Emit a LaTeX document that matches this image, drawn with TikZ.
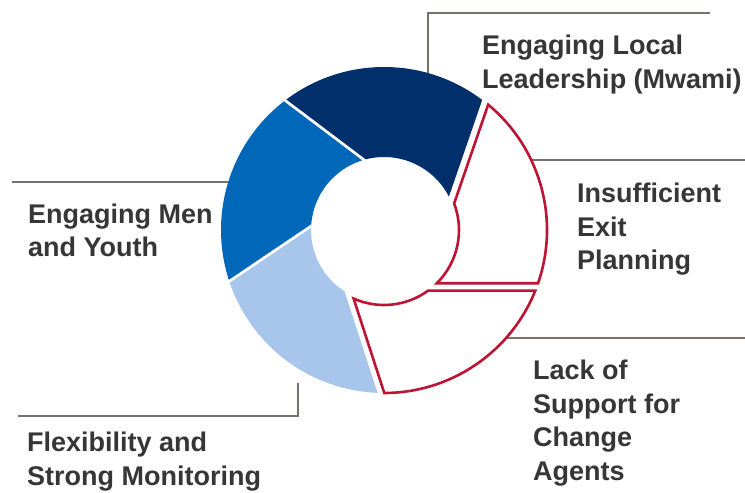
\documentclass[tikz,border=0pt]{standalone}
\usepackage{fontspec}
\setmainfont{Liberation Sans}
\definecolor{navyseg}{HTML}{002F6C}
\definecolor{midseg}{HTML}{0067B9}
\definecolor{lightseg}{HTML}{A8C6EC}
\definecolor{redseg}{HTML}{BE1434}
\definecolor{leadgray}{HTML}{77716D}
\definecolor{txtgray}{HTML}{363636}
\newcommand\labelfont{\fontsize{27}{33.5}\selectfont\bfseries}
\newcommand\stackl[1]{\vtop{\baselineskip=33.5pt\lineskiplimit=-20pt\halign{##\hfil\cr#1\crcr}}}
% #1 theta a, #2 offset a, #3 theta b, #4 offset b, #5 inner r, #6 outer R, #7 style
\newcommand\donutseg[7]{%
  \pgfmathsetmacro\aOut{#1-90+acos(#2/#6)}%
  \pgfmathsetmacro\aIn{#1-90+acos(#2/#5)}%
  \pgfmathsetmacro\bOut{#3-90+acos(#4/#6)}%
  \pgfmathsetmacro\bIn{#3-90+acos(#4/#5)}%
  \path[#7] ([shift={(\aOut:#6pt)}]C) arc[start angle=\aOut, end angle=\bOut, radius=#6pt]
    -- ([shift={(\bIn:#5pt)}]C) arc[start angle=\bIn, end angle=\aIn, radius=#5pt] -- cycle;%
}
\tikzset{
  lead/.style={draw=leadgray, line width=1.8pt},
  lbl/.style={anchor=base west, inner sep=0pt, text=txtgray, font=\labelfont},
  redpart/.style={fill=white, draw=redseg, line width=2.6pt, line join=miter},
}
\begin{document}
\begin{tikzpicture}[x=1pt,y=1pt]
\useasboundingbox (0,0) rectangle (745,493);
\fill[white] (0,0) rectangle (745,493);
\coordinate (C) at (384,263);
% leader line anchor points
\coordinate (nv0) at (428,405);
\coordinate (nv1) at (428,480);
\coordinate (nv2) at (710,480);
\coordinate (r10) at (520,333);
\coordinate (r11) at (745,333);
\coordinate (r20) at (495,155);
\coordinate (r21) at (745,155);
\coordinate (mb0) at (240,311);
\coordinate (mb1) at (12,311);
\coordinate (lb0) at (298,110);
\coordinate (lb1) at (298,77);
\coordinate (lb2) at (18,77);
\draw[lead] (nv0) -- (nv1) -- (nv2);
\draw[lead] (r10) -- (r11);
\draw[lead] (r20) -- (r21);
\draw[lead] (mb0) -- (mb1);
\draw[lead] (lb0) -- (lb1) -- (lb2);
% donut segments
\donutseg{71}{50.5}{143}{45.5}{73}{163}{fill=navyseg}
\donutseg{143}{42.5}{214}{45.5}{73}{163}{fill=midseg}
\donutseg{214}{42.5}{288}{56.5}{73}{163}{fill=lightseg}
\donutseg{0}{53.3}{71}{57.7}{75}{163}{redpart}
\donutseg{288}{50.1}{360}{60.7}{75}{163}{redpart}
% labels
\node[lbl] (tnavy) at (482,438) {\stackl{Engaging Local\cr Leadership (Mwami)}};
\node[lbl] (tred1) at (577,290) {\stackl{Insufficient\cr Exit\cr Planning}};
\node[lbl] (tmid) at (28,269.7) {\stackl{Engaging Men\cr and Youth}};
\node[lbl] (tlight) at (27,41.3) {\stackl{Flexibility and\cr Strong Monitoring}};
\node[lbl] (tred2) at (533,113) {\stackl{Lack of\cr Support for\cr Change\cr Agents}};
\end{tikzpicture}
\end{document}
